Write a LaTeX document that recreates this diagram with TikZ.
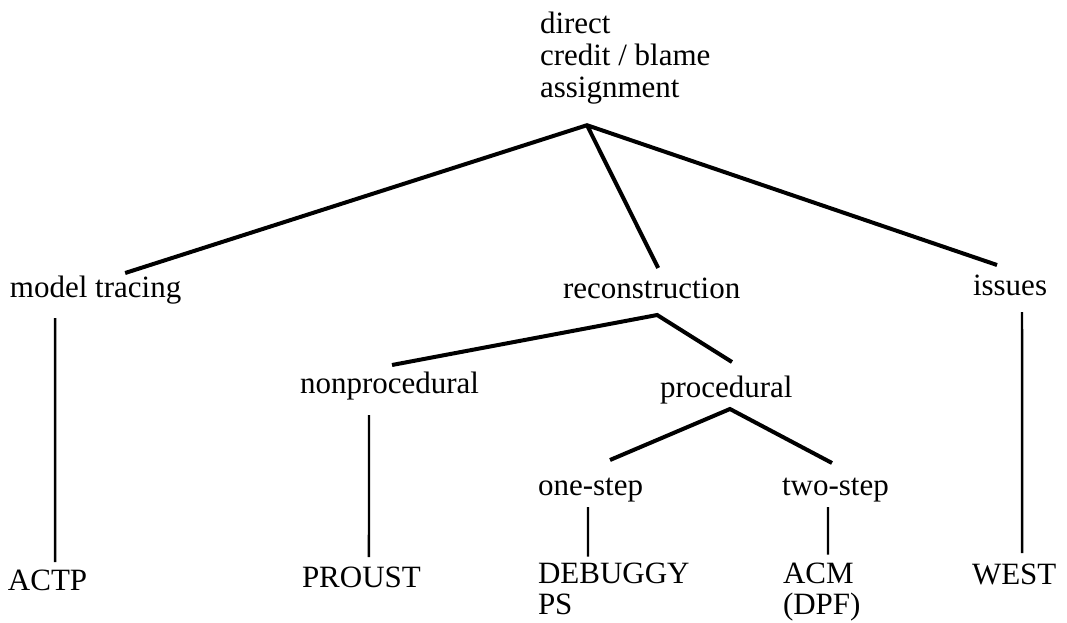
\documentclass[tikz,border=0pt]{standalone}
\usepackage{fontspec}
\setmainfont{Liberation Serif}
\usetikzlibrary{calc}

\begin{document}
\begin{tikzpicture}[
  x=0.5pt, y=-0.5pt,
  label node/.style={
    inner sep=0pt,
    outer sep=0pt,
    anchor=base west,
    font=\fontsize{15.5}{15.5}\selectfont,
  },
  stack node/.style={
    label node,
    anchor=north west,
    align=left,
  },
  branch/.style={draw, line width=2pt},
  stem/.style={draw, line width=1.2pt},
  ]
  \useasboundingbox (0,0) rectangle (1067,622);

  \node[stack node, font=\fontsize{15.5}{16}\selectfont] (root) at (540,12)
  {direct\\credit / blame\\assignment};

  \node[label node] (model-tracing) at (10,297) {model tracing};
  \node[label node] (reconstruction) at (563,298) {reconstruction};
  \node[label node] (issues) at (973,295) {issues};

  \node[label node] (nonprocedural) at (300,393) {nonprocedural};
  \node[label node] (procedural) at (660,397) {procedural};

  \node[label node] (one-step) at (538,495) {one-step};
  \node[label node] (two-step) at (782,495) {two-step};

  \node[label node] (actp) at (8,590) {ACTP};
  \node[label node] (proust) at (302,587) {PROUST};
  \node[stack node] (debuggy) at (538,563) {DEBUGGY\\PS};
  \node[stack node] (acm) at (783,563) {ACM\\(DPF)};
  \node[label node] (west) at (972,584) {WEST};

  \coordinate (root-fork) at ($(root.south west)+(47,21)$);
  \coordinate (recon-fork) at ($(reconstruction.base)+(5.5,17)$);
  \coordinate (proc-fork) at ($(procedural.base)+(3.7,12)$);

  \path[branch]
  ($(model-tracing.base)+(29.5,-24)$) -- (root-fork) -- ($(issues.base)+(-13,-30)$)
  (root-fork) -- ($(reconstruction.base)+(6.5,-30)$)
  ($(nonprocedural.base)+(2.5,-28)$) -- (recon-fork) -- ($(procedural.base)+(5.7,-35)$)
  ($(one-step.base)+(19.5,-35)$) -- (proc-fork) -- ($(two-step.base)+(-3.4,-32)$);

  \path[stem]
  ($(model-tracing.base)+(-40.5,21)$) -- ($(actp.base)+(7.5,-28)$)
  ($(nonprocedural.base)+(-20.5,22)$) -- ($(proust.base)+(7.5,-30)$)
  ($(one-step.base)+(-2.5,12)$) -- ($(debuggy.north west)+(50,-6.5)$)
  ($(two-step.base)+(-7.4,12)$) -- ($(acm.north west)+(45,-8.5)$)
  ($(issues.base)+(12,17)$) -- ($(west.base)+(8,-31)$);
\end{tikzpicture}
\end{document}
